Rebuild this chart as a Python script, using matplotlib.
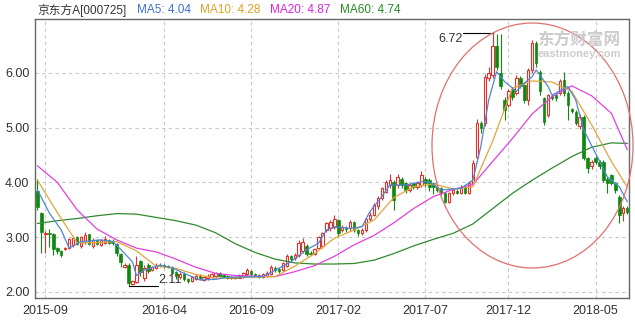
import numpy as np
import pandas as pd
import matplotlib
matplotlib.use("Agg")
import matplotlib.pyplot as plt
from matplotlib.patches import Ellipse

plt.rcParams['font.family'] = ['Liberation Sans', 'Noto Sans CJK SC', 'DejaVu Sans']

# weekly K-line
opens = [3.85, 3.44, 3.05, 3.08, 3.05, 2.80, 2.74, 2.78, 2.80, 2.86,
         3.00, 2.84, 2.92, 3.05, 2.84, 2.94, 2.86, 2.90, 2.94, 2.92,
         2.88, 2.70, 2.46, 2.49, 2.14, 2.18, 2.56, 2.25, 2.50, 2.40,
         2.44, 2.50, 2.49, 2.48, 2.46, 2.36, 2.28, 2.33, 2.24, 2.20,
         2.24, 2.30, 2.22, 2.25, 2.27, 2.30, 2.34, 2.31, 2.29, 2.26,
         2.28, 2.26, 2.28, 2.32, 2.38, 2.33, 2.31, 2.28, 2.30, 2.33,
         2.44, 2.42, 2.40, 2.47, 2.66, 2.62, 2.67, 2.74, 2.84, 2.72,
         2.70, 2.80, 2.83, 3.13, 3.16, 3.19, 3.31, 3.13, 3.17, 3.16,
         3.28, 3.13, 3.07, 3.13, 3.34, 3.41, 3.56, 3.71, 3.83, 3.95,
         4.01, 3.95, 4.07, 3.98, 3.86, 3.98, 3.92, 3.96, 4.07, 4.04,
         3.98, 3.92, 3.89, 3.80, 3.65, 3.80, 3.85, 3.80, 3.92, 3.80,
         3.98, 4.47, 5.08, 5.08, 5.90, 5.96, 6.48, 5.99, 5.50, 5.41,
         5.70, 5.63, 5.90, 5.78, 5.50, 6.05, 6.54, 6.02, 5.53, 5.23,
         5.58, 5.59, 5.63, 5.87, 5.63, 5.34, 5.29, 5.02, 5.20, 4.44,
         4.29, 4.44, 4.38, 4.38, 4.07, 4.14, 3.98, 3.74, 3.44, 3.53]
closes = [3.55, 3.10, 3.08, 3.05, 2.78, 2.74, 2.68, 2.80, 2.97, 2.99,
          2.88, 3.00, 3.04, 2.88, 2.94, 2.88, 2.95, 2.96, 2.90, 2.90,
          2.72, 2.55, 2.50, 2.16, 2.20, 2.50, 2.36, 2.44, 2.38, 2.45,
          2.48, 2.47, 2.47, 2.46, 2.35, 2.30, 2.33, 2.23, 2.20, 2.27,
          2.30, 2.25, 2.27, 2.29, 2.32, 2.34, 2.30, 2.28, 2.26, 2.28,
          2.26, 2.30, 2.34, 2.40, 2.33, 2.30, 2.28, 2.32, 2.34, 2.46,
          2.40, 2.38, 2.52, 2.66, 2.60, 2.68, 2.90, 2.92, 2.69, 2.70,
          2.78, 3.00, 3.07, 3.25, 3.28, 3.34, 3.07, 3.19, 3.14, 3.28,
          3.13, 3.07, 3.13, 3.34, 3.41, 3.59, 3.71, 3.89, 4.01, 4.04,
          3.68, 4.10, 3.95, 3.86, 3.95, 3.92, 3.98, 4.14, 3.98, 3.92,
          3.92, 3.86, 3.80, 3.65, 3.80, 3.86, 3.81, 3.92, 3.80, 3.98,
          4.35, 5.08, 4.99, 5.93, 6.00, 6.48, 6.11, 5.75, 5.32, 5.66,
          5.55, 5.90, 5.75, 5.50, 6.05, 6.55, 6.17, 5.66, 5.11, 5.59,
          5.54, 5.53, 5.84, 5.63, 5.41, 5.30, 5.08, 5.20, 4.44, 4.26,
          4.38, 4.38, 4.29, 4.04, 3.98, 3.98, 3.86, 3.41, 3.53, 3.46]
highs = [4.06, 3.45, 3.12, 3.15, 3.08, 2.82, 2.76, 2.82, 2.99, 3.02,
         3.02, 3.02, 3.10, 3.06, 2.98, 2.96, 2.97, 3.02, 2.97, 2.96,
         2.90, 2.72, 2.52, 2.52, 2.22, 2.65, 2.58, 2.50, 2.53, 2.48,
         2.52, 2.52, 2.51, 2.50, 2.48, 2.38, 2.36, 2.36, 2.26, 2.30,
         2.33, 2.32, 2.30, 2.32, 2.34, 2.37, 2.36, 2.33, 2.31, 2.30,
         2.30, 2.33, 2.36, 2.44, 2.40, 2.35, 2.32, 2.35, 2.38, 2.50,
         2.47, 2.44, 2.55, 2.70, 2.68, 2.72, 2.95, 2.98, 2.88, 2.74,
         2.80, 3.03, 3.10, 3.28, 3.32, 3.41, 3.33, 3.22, 3.20, 3.31,
         3.30, 3.15, 3.16, 3.37, 3.45, 3.62, 3.75, 3.92, 4.05, 4.16,
         4.04, 4.16, 4.10, 4.00, 3.98, 4.01, 4.02, 4.20, 4.10, 4.08,
         4.00, 3.95, 3.92, 3.82, 3.82, 3.90, 3.88, 3.95, 3.95, 4.02,
         4.40, 5.15, 5.12, 5.97, 6.10, 6.72, 6.70, 6.70, 5.55, 5.70,
         5.74, 5.95, 5.94, 5.80, 6.08, 6.60, 6.58, 6.05, 5.55, 5.62,
         5.62, 5.63, 5.88, 6.02, 5.66, 5.36, 5.32, 5.24, 5.22, 4.47,
         4.40, 4.48, 4.40, 4.40, 4.10, 4.16, 4.00, 3.76, 3.56, 3.56]
lows = [3.50, 2.71, 2.72, 2.82, 2.68, 2.70, 2.64, 2.76, 2.79, 2.82,
        2.86, 2.80, 2.88, 2.85, 2.80, 2.86, 2.83, 2.88, 2.87, 2.85,
        2.66, 2.45, 2.44, 2.11, 2.12, 2.16, 2.30, 2.20, 2.34, 2.38,
        2.42, 2.45, 2.44, 2.43, 2.33, 2.24, 2.24, 2.20, 2.17, 2.18,
        2.22, 2.22, 2.20, 2.22, 2.25, 2.28, 2.28, 2.25, 2.24, 2.24,
        2.23, 2.25, 2.26, 2.30, 2.30, 2.28, 2.26, 2.26, 2.28, 2.31,
        2.37, 2.35, 2.38, 2.45, 2.56, 2.58, 2.64, 2.72, 2.66, 2.67,
        2.68, 2.78, 2.80, 3.10, 3.12, 3.15, 3.00, 3.10, 3.10, 3.12,
        3.10, 3.03, 3.04, 3.10, 3.30, 3.38, 3.52, 3.68, 3.80, 3.90,
        3.50, 3.90, 3.90, 3.80, 3.82, 3.88, 3.88, 3.92, 3.92, 3.85,
        3.78, 3.82, 3.76, 3.62, 3.62, 3.77, 3.78, 3.78, 3.78, 3.78,
        3.95, 4.42, 4.90, 5.02, 5.85, 5.90, 6.05, 5.70, 5.14, 5.38,
        5.50, 5.60, 5.72, 5.45, 5.41, 6.00, 6.10, 5.60, 5.05, 5.20,
        5.50, 5.48, 5.60, 5.58, 5.14, 5.26, 5.04, 4.98, 4.40, 4.17,
        4.25, 4.34, 4.25, 4.00, 3.80, 3.95, 3.80, 3.25, 3.30, 3.42]

# moving averages, read at sampled weeks
ma_week = [0, 5, 10, 15, 20, 25, 30, 35, 40, 45, 50, 55, 60, 65, 70, 75,
           80, 85, 90, 95, 100, 105, 110, 115, 120, 125, 130, 135, 140, 145, 149]
ma10 = [4.04, 3.45, 2.90, 2.90, 2.92, 2.75, 2.47, 2.43, 2.32, 2.25, 2.26,
        2.27, 2.28, 2.47, 2.70, 2.98, 3.13, 3.31, 3.72, 3.92, 3.97, 3.88,
        3.92, 4.75, 5.72, 5.85, 5.83, 5.66, 5.05, 4.38, 3.92]
ma20 = [4.30, 4.00, 3.50, 3.15, 2.95, 2.80, 2.73, 2.60, 2.45, 2.34, 2.30,
        2.29, 2.28, 2.37, 2.48, 2.65, 2.86, 3.03, 3.26, 3.52, 3.74, 3.87,
        3.96, 4.38, 4.80, 5.25, 5.56, 5.76, 5.58, 5.26, 4.60]
ma60 = [3.25, 3.30, 3.34, 3.39, 3.43, 3.42, 3.36, 3.30, 3.22, 3.08, 2.88,
        2.72, 2.60, 2.53, 2.51, 2.51, 2.52, 2.58, 2.70, 2.84, 2.96, 3.07,
        3.24, 3.52, 3.80, 4.04, 4.26, 4.47, 4.64, 4.72, 4.71]
ma5_week = [0, 3, 6, 8, 11, 16, 19, 21, 24, 25, 27, 31, 34, 38, 41, 45, 48,
            57, 64, 68, 71, 73, 75, 79, 82, 84, 87, 89, 93, 97, 99, 102, 107,
            110, 112, 114, 116, 118, 121, 123, 125, 126, 129, 130, 134, 136,
            138, 141, 144, 147, 149]
ma5 = [3.86, 3.44, 3.13, 2.80, 2.92, 2.95, 2.92, 2.78, 2.55, 2.30, 2.40,
       2.49, 2.44, 2.31, 2.22, 2.23, 2.27, 2.28, 2.55, 2.77, 2.89, 3.13,
       3.19, 3.16, 3.19, 3.47, 3.74, 3.95, 3.95, 4.01, 4.01, 3.86, 3.89,
       4.04, 4.65, 5.50, 6.02, 5.84, 5.66, 5.81, 5.93, 6.05, 5.75, 5.59,
       5.75, 5.50, 4.96, 4.53, 4.10, 3.92, 3.65]

tick_months = ['2015-09', '2016-04', '2016-09', '2017-02', '2017-07', '2017-12', '2018-05']
header = [('京东方A[000725]', '#333333'), ('MA5: 4.04', '#3d6fd1'),
          ('MA10: 4.28', '#e0a020'), ('MA20: 4.87', '#e020e0'), ('MA60: 4.74', '#228b22')]

n = len(closes)
weeks = pd.date_range('2015-08-21', periods=n, freq='W-FRI')
x = np.arange(n)

fig = plt.figure(figsize=(6.35, 3.2), dpi=100)
ax = fig.add_axes([35/635, 22/320, 594/635, 279/320])

up_c = '#e0312d'
dn_c = '#0e8a0e'
o = np.array(opens); c = np.array(closes); h = np.array(highs); l = np.array(lows)
up = c >= o
ax.vlines(x[up], l[up], h[up], color=up_c, lw=0.8, zorder=3)
ax.vlines(x[~up], l[~up], h[~up], color=dn_c, lw=0.8, zorder=3)
body = np.maximum(np.abs(c - o), 0.012)
ax.bar(x[up], body[up], bottom=np.minimum(o, c)[up], width=0.62,
       color='white', edgecolor=up_c, linewidth=0.8, zorder=4)
ax.bar(x[~up], body[~up], bottom=np.minimum(o, c)[~up], width=0.62,
       color=dn_c, edgecolor=dn_c, linewidth=0.5, zorder=4)

ax.plot(ma_week, ma60, color='#2e8b2e', lw=0.9, zorder=5)
ax.plot(ma_week, ma20, color='#e040e0', lw=0.9, zorder=5)
ax.plot(ma_week, ma10, color='#e2a53c', lw=0.9, zorder=5)
ax.plot(ma5_week, ma5, color='#4f86d9', lw=0.9, zorder=5)

# max / min markers
hi = int(np.argmax(h)); lo = int(np.argmin(l))
ax.plot([hi - 7.5, hi], [h[hi], h[hi]], color='black', lw=0.8, zorder=6)
ax.text(hi - 7.5, h[hi], f'{h[hi]:.2f}', ha='right', va='top', fontsize=9, color='#333333')
ax.plot([lo, lo + 7.5], [l[lo], l[lo]], color='black', lw=0.8, zorder=6)
ax.text(lo + 7.5, l[lo], f'{l[lo]:.2f}', ha='left', va='bottom', fontsize=9, color='#333333')

ax.set_xlim(-0.63, 149.45)
ax.set_ylim(1.89, 6.98)
ax.set_yticks([2, 3, 4, 5, 6])
ax.yaxis.set_major_formatter(matplotlib.ticker.FormatStrFormatter('%.2f'))
tpos = [int(np.argmax(weeks.strftime('%Y-%m') == m)) for m in tick_months]
ax.set_xticks(tpos)
ax.set_xticklabels(tick_months)
ax.tick_params(length=0, labelsize=9, labelcolor='#333333')
ax.tick_params(axis='y', pad=4)
ax.tick_params(axis='x', pad=5)
ax.grid(True, color='#c8c8c8', lw=0.8, ls=(0, (3, 3)))
ax.set_axisbelow(True)
for s in ax.spines.values():
    s.set_color('#666666')
    s.set_linewidth(1)

# watermark
fig.text(579/635, 1 - 41/320, '东方财富网', ha='center', va='center', fontsize=12,
         color='#cccccc', fontweight='bold', family=['Noto Sans CJK SC'])
fig.text(579/635, 1 - 54/320, 'eastmoney.com', ha='center', va='center', fontsize=8,
         color='#cccccc', fontweight='bold')

fig.add_artist(Ellipse((532.5/635, 1 - 145.5/320), 201/635, 245/320,
                       transform=fig.transFigure, fill=False, edgecolor='#e07070', lw=0.9))

xs = [37, 137, 200, 270, 340]
for (t, col), px in zip(header, xs):
    fig.text(px/635, 1 - 10/320, t, color=col, fontsize=8.5, va='center', ha='left')

fig.savefig('out.png', dpi=100)
